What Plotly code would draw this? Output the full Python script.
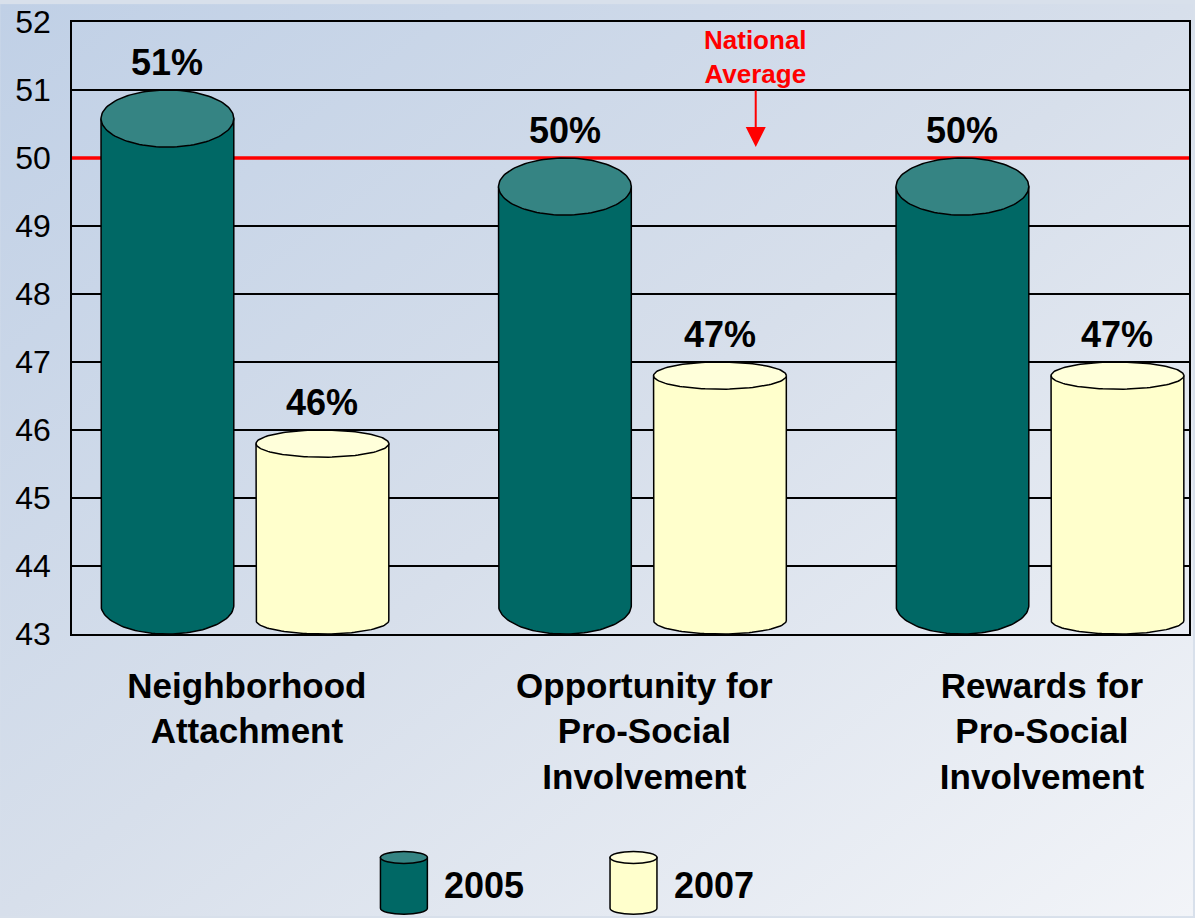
"""
Cylinder bar chart: protective factors 2005 vs 2007 against the national average.
"""

import base64

import numpy as np
import plotly.graph_objects as go

# Data
categories = [
    "Neighborhood<br>Attachment",
    "Opportunity for<br>Pro-Social<br>Involvement",
    "Rewards for<br>Pro-Social<br>Involvement",
]
years = ["2005", "2007"]
values_2005 = [51, 50, 50]
values_2007 = [46, 47, 47]
national_average = 50
y_ticks = list(range(43, 53))

# Layout constants
W, H = 1195, 918
MARGIN = dict(l=72, r=4, t=18, b=284)
PW = W - MARGIN["l"] - MARGIN["r"]
PH = H - MARGIN["t"] - MARGIN["b"]

FONT = "Arial, 'Liberation Sans', sans-serif"
TEAL, TEAL_TOP = "#006865", "#358483"
CREAM, CREAM_TOP = "#FFFFCC", "#FFFFDA"
OUTLINE = dict(color="black", width=1.5)

Y_MIN, Y_MAX = y_ticks[0], y_ticks[-1]
X_RANGE = [-0.44, 2.37]
HALF_W = 0.167
SERIES = [
    (years[0], values_2005, -0.2, 0.42, TEAL, TEAL_TOP),
    (years[1], values_2007, 0.19, 0.2, CREAM, CREAM_TOP),
]


def cylinder(xc, top, base, hw, r, n=60):
    """Return (body_x, body_y, cap_x, cap_y) polygons for a cylinder."""
    t = np.linspace(np.pi, 2 * np.pi, n)
    bx = np.concatenate([[xc - hw], xc + hw * np.cos(t), [xc + hw, xc - hw]])
    by = np.concatenate([[top - r], base + r + r * np.sin(t), [top - r, top - r]])
    t2 = np.linspace(0, 2 * np.pi, 2 * n)
    cx = xc + hw * np.cos(t2)
    cy = top - r + r * np.sin(t2)
    return bx, by, cx, cy


def px(x, y):
    """Pixel position in the figure -> paper coordinates."""
    return (x - MARGIN["l"]) / PW, (H - MARGIN["b"] - y) / PH


fig = go.Figure()

# national average line (behind the bars)
fig.add_trace(go.Scatter(
    x=X_RANGE, y=[national_average, national_average], mode="lines",
    line=dict(color="#FF0000", width=3.5), hoverinfo="skip", showlegend=False,
))

annotations = []
for name, vals, offset, r, body_c, cap_c in SERIES:
    for i, v in enumerate(vals):
        xc = i + offset
        bx, by, cx, cy = cylinder(xc, v, Y_MIN, HALF_W, r)
        fig.add_trace(go.Scatter(
            x=bx, y=by, mode="lines", fill="toself", fillcolor=body_c,
            line=OUTLINE, hoverinfo="skip", showlegend=False,
        ))
        fig.add_trace(go.Scatter(
            x=cx, y=cy, mode="lines", fill="toself", fillcolor=cap_c,
            line=OUTLINE, name=name, text=f"{v}%",
            hovertemplate=f"<b>{name}</b><br>%{{text}}<extra></extra>",
            showlegend=False,
        ))
        annotations.append(dict(
            x=xc, y=v, xref="x", yref="y", text=f"{v}%", showarrow=False,
            yanchor="bottom", yshift=5,
            font=dict(family=FONT, size=36, color="black", weight="bold"),
        ))

# "National Average" callout
annotations.append(dict(
    x=1.28, y=national_average, xref="x", yref="y",
    text="National<br>Average", showarrow=True, ax=0, ay=-101,
    arrowhead=2, arrowsize=2, arrowwidth=2, arrowcolor="#FF0000", standoff=11,
    font=dict(family=FONT, size=26, color="#FF0000", weight="bold"),
))

# custom legend with cylinder icons
shapes = []
legend_items = [(years[0], 381, TEAL, TEAL_TOP), (years[1], 611, CREAM, CREAM_TOP)]
k = 0.5523
for label, x0, body_c, cap_c in legend_items:
    x1, top, bot, r = x0 + 47, 853, 916, 6
    xc, hw = (x0 + x1) / 2, (x1 - x0) / 2
    pts = [
        ("M", [(x0, top + r)]),
        ("L", [(x0, bot - r)]),
        ("C", [(x0, bot - r + k * r), (xc - k * hw, bot), (xc, bot)]),
        ("C", [(xc + k * hw, bot), (x1, bot - r + k * r), (x1, bot - r)]),
        ("L", [(x1, top + r)]),
    ]
    path = ""
    for cmd, pp in pts:
        path += cmd + " " + " ".join("%.5f,%.5f" % px(a, b) for a, b in pp) + " "
    path += "Z"
    shapes.append(dict(type="path", xref="paper", yref="paper", path=path,
                       fillcolor=body_c, line=OUTLINE, layer="above"))
    cx0, cy0 = px(x0, top)
    cx1, cy1 = px(x1, top + 2 * r)
    shapes.append(dict(type="circle", xref="paper", yref="paper",
                       x0=cx0, x1=cx1, y0=cy1, y1=cy0,
                       fillcolor=cap_c, line=OUTLINE, layer="above"))
    tx, ty = px(x1 + 15, 887)
    annotations.append(dict(
        x=tx, y=ty, xref="paper", yref="paper", text=label, showarrow=False,
        xanchor="left", yanchor="middle",
        font=dict(family=FONT, size=36, color="black", weight="bold"),
    ))

# gradient background as an inline svg image
bg_svg = (
    f'<svg xmlns="http://www.w3.org/2000/svg" width="{W}" height="{H}" '
    f'viewBox="0 0 {W} {H}" preserveAspectRatio="none">'
    '<defs><linearGradient id="g" x1="0" y1="0" x2="1" y2="1">'
    '<stop offset="0" stop-color="#c0d0e6"/>'
    '<stop offset="0.5" stop-color="#d7dfeb"/>'
    '<stop offset="1" stop-color="#f2f4f8"/>'
    '</linearGradient></defs>'
    f'<rect width="{W}" height="{H}" fill="url(#g)"/></svg>'
)
bg_src = "data:image/svg+xml;base64," + base64.b64encode(bg_svg.encode()).decode()

fig.update_layout(
    width=W,
    height=H,
    margin=dict(MARGIN, pad=0),
    paper_bgcolor="#d8e0eb",
    plot_bgcolor="rgba(0,0,0,0)",
    font=dict(family=FONT, color="black"),
    showlegend=False,
    annotations=annotations,
    shapes=shapes,
    images=[dict(
        source=bg_src, xref="paper", yref="paper",
        x=-MARGIN["l"] / PW, y=1 + MARGIN["t"] / PH,
        sizex=W / PW, sizey=H / PH,
        xanchor="left", yanchor="top", sizing="stretch", layer="below",
    )],
    xaxis=dict(
        range=X_RANGE, tickvals=list(range(len(categories))), ticktext=categories,
        tickfont=dict(family=FONT, size=35, color="black", weight="bold"),
        ticks="outside", ticklen=20, tickcolor="rgba(0,0,0,0)",
        showgrid=False, zeroline=False,
        showline=True, mirror=True, linecolor="black", linewidth=1.5,
    ),
    yaxis=dict(
        range=[Y_MIN, Y_MAX], tickvals=y_ticks,
        tickfont=dict(family=FONT, size=32, color="black"),
        ticks="outside", ticklen=13, tickcolor="rgba(0,0,0,0)",
        showgrid=True, gridcolor="black", gridwidth=1.5, zeroline=False,
        showline=True, mirror=True, linecolor="black", linewidth=1.5,
    ),
)

# drop the default 8px page margin so the figure fills the window
fig.write_html(
    "out.html",
    config={"displayModeBar": False},
    post_script="document.body.style.margin='0';",
)
